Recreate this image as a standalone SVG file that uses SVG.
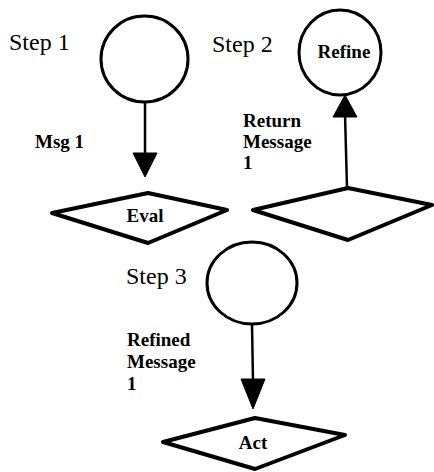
<svg xmlns="http://www.w3.org/2000/svg" width="434" height="472" viewBox="0 0 434 472">
  <style>
    .node { fill: none; stroke: #000; stroke-width: 3; }
    .dia { fill: none; stroke: #000; stroke-width: 4; stroke-linejoin: round; }
    .edge { stroke: #000; stroke-width: 2.5; fill: none; }
    .head { fill: #000; stroke: #000; stroke-width: 1; stroke-linejoin: round; }
    text { font-family: 'Liberation Serif', 'DejaVu Serif', 'Times New Roman', serif; fill: #000; }
    .step { font-size: 24px; }
    .lbl { font-size: 19px; font-weight: bold; }
  </style>
  <rect width="434" height="472" fill="#fff"/>

  <!-- connectors -->
  <g id="connectors">
    <line class="edge" x1="145" y1="102" x2="145" y2="156"/>
    <polygon class="head" points="133,153 157,153 145,177"/>
    <line class="edge" x1="347" y1="188" x2="345" y2="114"/>
    <polygon class="head" points="333,117 357,117 345,95"/>
    <line class="edge" x1="252" y1="324" x2="253" y2="382"/>
    <polygon class="head" points="241,379 265,379 253,409"/>
  </g>

  <g id="step1">
    <text class="step" x="9" y="50" font-family="Liberation Serif, serif">Step 1</text>
    <ellipse class="node" cx="144.5" cy="59" rx="43.5" ry="43"/>
  </g>
  <g id="msg1">
    <text class="lbl" x="35" y="148">Msg 1</text>
  </g>
  <g id="eval">
    <polygon class="dia" points="52,213 148,193 227,210 148,243"/>
    <text class="lbl" x="145" y="222" text-anchor="middle">Eval</text>
  </g>

  <g id="step2">
    <text class="step" x="212" y="52">Step 2</text>
    <ellipse class="node" cx="340" cy="52.5" rx="41" ry="42.5"/>
    <text class="lbl" x="344" y="58" text-anchor="middle">Refine</text>
  </g>
  <g id="return-msg">
    <text class="lbl" x="243" y="127">Return</text>
    <text class="lbl" x="243" y="148">Message</text>
    <text class="lbl" x="243" y="169">1</text>
  </g>
  <g id="decision2">
    <polygon class="dia" points="253,210 348,188 432,205 348,240"/>
  </g>

  <g id="step3">
    <text class="step" x="126" y="284">Step 3</text>
    <ellipse class="node" cx="252" cy="283" rx="45" ry="41"/>
  </g>
  <g id="refined-msg">
    <text class="lbl" x="127" y="346">Refined</text>
    <text class="lbl" x="127" y="368">Message</text>
    <text class="lbl" x="127" y="390">1</text>
  </g>
  <g id="act">
    <polygon class="dia" points="163,442 255,418 345,435 255,469"/>
    <text class="lbl" x="253" y="449" text-anchor="middle">Act</text>
  </g>
</svg>
